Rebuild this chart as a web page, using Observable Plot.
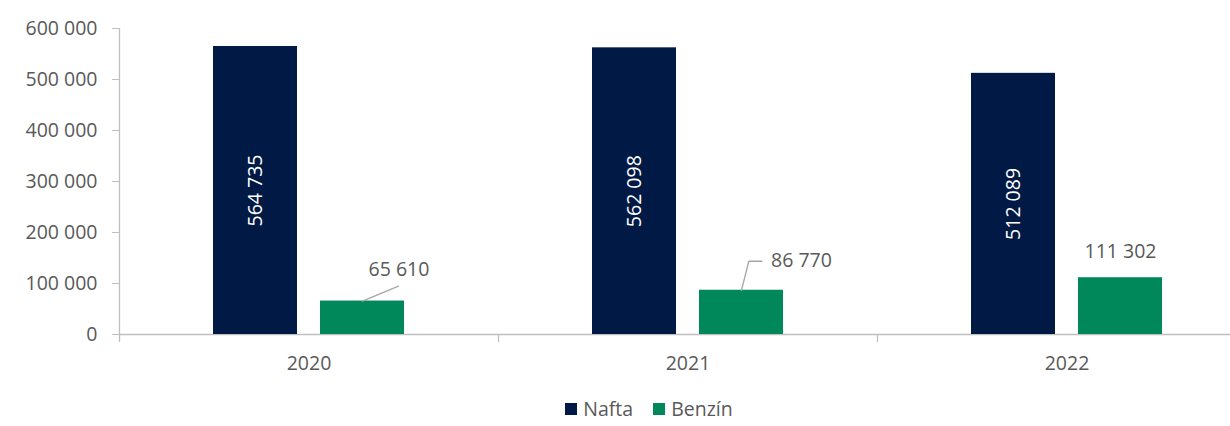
<!DOCTYPE html>
<html>
<head>
<meta charset="utf-8">
<script src="https://cdn.jsdelivr.net/npm/d3@7"></script>
<script src="https://cdn.jsdelivr.net/npm/@observablehq/plot@0.6"></script>
<style>
  body { margin: 0; background: #ffffff; font-family: "Open Sans", sans-serif; }
  #legend { display: flex; justify-content: center; align-items: center; height: 38px; width: 1230px; box-sizing: border-box; padding-left: 68px; font-size: 19.5px; line-height: 20px; color: #595959; }
  .item { display: flex; align-items: center; margin: 0 10px; }
  .sw { width: 12px; height: 12px; margin-right: 6px; }
</style>
</head>
<body>
<div id="chart"></div>
<div id="legend"></div>
<script>
// ---- data ----
const years = ["2020", "2021", "2022"];
const series = ["Nafta", "Benzín"];
const naftaValues = [564735, 562098, 512089];
const benzinValues = [65610, 86770, 111302];
const yTicks = [0, 100000, 200000, 300000, 400000, 500000, 600000];
const colors = ["#011A45", "#00875A"];

const fmt = d => d3.format(",")(d).replace(/,/g, " ");

const rows = years.flatMap((yr, i) => [
  {year: yr, series: series[0], value: naftaValues[i]},
  {year: yr, series: series[1], value: benzinValues[i]}
]);
const naftaRows = rows.filter(d => d.series === series[0]);
const benzinRows = rows.filter(d => d.series === series[1]);

// polyline leader shape for vector marks (relative pixel offsets)
const leader = pts => ({
  draw(ctx) {
    ctx.moveTo(0, 0);
    for (const [px, py] of pts) ctx.lineTo(px, py);
  }
});

const leaderStyle = {stroke: "#A6A6A6", strokeWidth: 1.3, fill: "none", anchor: "start", length: 1, rotate: 0};

const chart = Plot.plot({
  width: 1230,
  height: 390,
  marginTop: 28,
  marginBottom: 56,
  marginLeft: 118,
  marginRight: -26,
  style: {fontFamily: "Open Sans, sans-serif", fontSize: "19.5px", color: "#595959", background: "#ffffff", overflow: "hidden"},
  fx: {domain: years, paddingInner: 0, paddingOuter: 0, label: null},
  x: {domain: series, paddingInner: 0.213, paddingOuter: 0.863, axis: null},
  y: {domain: [0, 600000], label: null},
  color: {domain: series, range: colors},
  marks: [
    Plot.axisY({ticks: yTicks, tickFormat: fmt, tickSize: 7, tickPadding: 15, stroke: "#BFBFBF", fill: "#595959", label: null}),
    Plot.axisFx({anchor: "bottom", tickSize: 0, tickPadding: 22, fill: "#595959", label: null}),
    Plot.ruleY([0], {stroke: "#BFBFBF", strokeWidth: 1.3}),
    Plot.barY(rows, {fx: "year", x: "series", y: "value", fill: "series"}),
    Plot.text(naftaRows, {fx: "year", x: "series", y: d => d.value / 2, text: d => fmt(d.value), rotate: -90, fill: "#ffffff"}),
    Plot.text(benzinRows.filter(d => d.year === years[0]), {fx: "year", x: "series", y: "value", text: d => fmt(d.value), dx: 36.5, dy: -31.5}),
    Plot.text(benzinRows.filter(d => d.year === years[1]), {fx: "year", x: "series", y: "value", text: d => fmt(d.value), dx: 60, dy: -29}),
    Plot.text(benzinRows.filter(d => d.year === years[2]), {fx: "year", x: "series", y: "value", text: d => fmt(d.value), dy: -25.5}),
    Plot.vector(benzinRows.filter(d => d.year === years[0]), {fx: "year", x: "series", y: "value", shape: leader([[36, -15]]), ...leaderStyle}),
    Plot.vector(benzinRows.filter(d => d.year === years[1]), {fx: "year", x: "series", y: "value", shape: leader([[7.3, -29], [20.5, -29]]), ...leaderStyle})
  ]
});

// category separators and y-axis line, placed with the plot's own scales
const fxS = chart.scale("fx");
const yS = chart.scale("y");
const y0 = yS.apply(0);
const sep = d3.select(chart).append("g").attr("stroke", "#BFBFBF").attr("stroke-width", 1.3);
years.forEach((yr, i) => {
  const x = Math.round(fxS.apply(yr)) + 0.5;
  sep.append("line")
    .attr("x1", x).attr("x2", x)
    .attr("y1", i === 0 ? yS.apply(yTicks[yTicks.length - 1]) : y0)
    .attr("y2", y0 + 8);
});

document.getElementById("chart").appendChild(chart);

// legend
const legend = d3.select("#legend");
series.forEach((s, i) => {
  const item = legend.append("div").attr("class", "item");
  item.append("div").attr("class", "sw").style("background", colors[i]);
  item.append("span").text(s);
});
</script>
</body>
</html>
